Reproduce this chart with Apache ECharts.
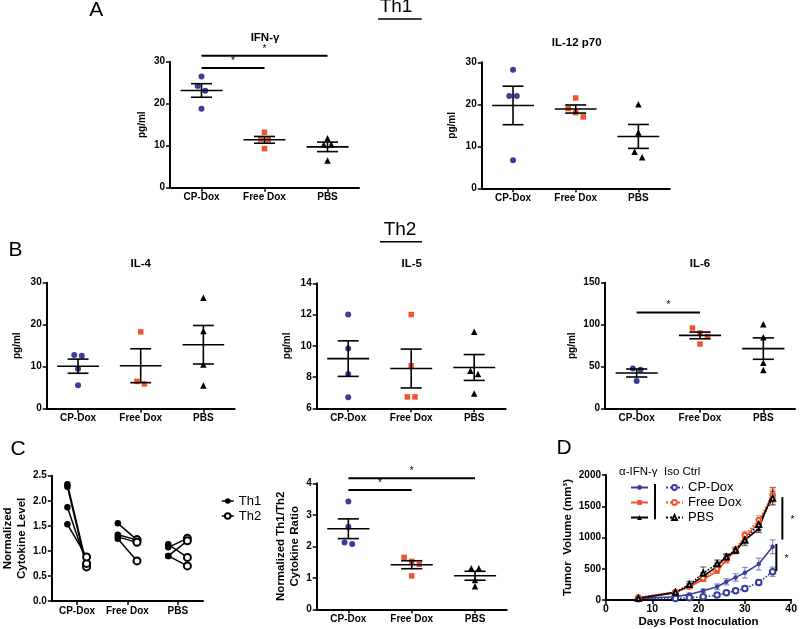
<!DOCTYPE html>
<html><head><meta charset="utf-8">
<script src="https://cdn.jsdelivr.net/npm/echarts@6/dist/echarts.min.js"></script>
<style>html,body{margin:0;padding:0;background:#fff}#c{width:800px;height:629px}</style>
</head><body><div id="c"></div>
<script>
// ---------- DATA ----------
const groups = ['CP-Dox', 'Free Dox', 'PBS'];
const ifngValues = [[26.5, 24.2, 23.1, 18.8], [13.2, 11.6, 11.5, 9.3], [11.8, 10.3, 10.3, 6.5]];
const ifngSig = [[0, 1, 28.5], [0, 2, 31.4]];
const il12Values = [[28.2, 22, 22, 6.7], [21.5, 19, 18, 17], [20, 13.3, 8.7, 7.4]];
const il4Values = [[12.8, 12.6, 9.5, 5.6], [18.3, 6.5, 5.9], [26.4, 18.5, 10.5, 5.5]];
const il5Values = [[12, 9.83, 8.19, 6.7], [12, 8.72, 6.73, 6.73], [10.9, 8.4, 8.2, 6.95]];
const il6Values = [[48, 46.5, 33], [96, 90, 86, 77], [100.5, 85, 54.8, 46]];
const il6Sig = [[0, 1, 114.5]];
const ratioValues = [[3.42, 2.62, 2.12, 2.07], [1.65, 1.52, 1.43, 1.06], [1.3, 1.3, 0.93, 0.73]];
const ratioSig = [[0, 1, 3.79], [0, 2, 4.16]];
const th1Values = [[2.33, 2.28, 1.87, 1.53], [1.55, 1.32, 1.28, 1.24], [1.13, 1.07, 0.9, 0.9]];
const th2Values = [[0.72, 0.68, 0.75, 0.88], [1.22, 1.22, 1.17, 0.80], [0.87, 1.25, 1.2, 0.7]];

const days = [7, 15, 18, 21, 24, 26, 28, 30, 33, 36];
const aCP = [27, 53, 91, 149, 213, 293, 363, 437, 576, 853];
const aCPErr = [10, 12, 18, 30, 45, 50, 60, 85, 95, 110];
const isoCP = [20, 27, 37, 53, 80, 117, 149, 187, 283, 453];
const isoCPErr = [8, 10, 12, 15, 20, 22, 30, 38, 45, 75];
const aFree = [40, 130, 210, 330, 460, 640, 790, 1000, 1240, 1650];
const aFreeErr = [10, 20, 30, 30, 25, 45, 40, 60, 60, 120];
const isoFree = [40, 125, 220, 350, 500, 660, 800, 1040, 1280, 1680];
const isoFreeErr = [10, 20, 30, 40, 35, 60, 50, 60, 70, 120];
const aPBS = [30, 120, 230, 380, 540, 700, 780, 960, 1140, 1720];
const aPBSErr = [8, 20, 40, 60, 50, 40, 40, 90, 60, 80];
const isoPBS = [30, 125, 250, 430, 580, 690, 800, 960, 1210, 1630];
const isoPBSErr = [8, 20, 50, 100, 60, 40, 40, 60, 80, 110];
const tumorSig = [[38.1, 968, 1646], [36.8, 465, 900]];

// ---------- STYLE ----------
const FONT = '"Liberation Sans", Arial, Helvetica, sans-serif';
const BLUE = '#3a3d9c', RED = '#f0532e', BLACK = '#000';
const GROUP_COLORS = [BLUE, RED, BLACK];
const GROUP_SYMBOLS = ['circle', 'rect', 'triangle'];
const GROUP_SIZES = [6, 5.5, 6.5];

const grids = [], xAxes = [], yAxes = [], series = [], graphics = [], legends = [];

function lbl(size) { return { color: '#000', fontFamily: FONT, fontWeight: 'bold', fontSize: size }; }
function tick() { return { show: true, inside: false, length: 4, lineStyle: { color: '#000', width: 1.5 } }; }
function line() { return { show: true, onZero: false, lineStyle: { color: '#000', width: 2 } }; }
function stats(v) {
  const n = v.length, m = v.reduce((a, b) => a + b, 0) / n;
  const sd = Math.sqrt(v.reduce((a, b) => a + (b - m) * (b - m), 0) / (n - 1));
  return { m, sem: sd / Math.sqrt(n) };
}
function jitter(vals, thr) {
  const idx = vals.map((v, i) => i).sort((a, b) => vals[b] - vals[a]);
  const off = new Array(vals.length).fill(0);
  let cl = [idx[0]];
  const flush = () => { const k = cl.length; cl.forEach((id, j) => off[id] = (j - (k - 1) / 2) * 0.12); };
  for (let i = 1; i < idx.length; i++) {
    if (vals[cl[cl.length - 1]] - vals[idx[i]] < thr) cl.push(idx[i]);
    else { flush(); cl = [idx[i]]; }
  }
  flush();
  return off;
}
function seg(a, b, st) { return { type: 'line', shape: { x1: a[0], y1: a[1], x2: b[0], y2: b[1] }, style: st }; }

function renderMeanSem(params, api) {
  const x = api.value(0), m = api.value(1), lo = api.value(2), hi = api.value(3);
  const pm = api.coord([x, m]), pl = api.coord([x, lo]), ph = api.coord([x, hi]);
  const u = api.size([1, 0])[0];
  const hw = u * 0.333, cw = u * 0.167;
  const st = { stroke: '#000', lineWidth: 1.6 };
  return { type: 'group', children: [
    seg([pm[0] - hw, pm[1]], [pm[0] + hw, pm[1]], st),
    seg(pl, ph, st),
    seg([pl[0] - cw, pl[1]], [pl[0] + cw, pl[1]], st),
    seg([ph[0] - cw, ph[1]], [ph[0] + cw, ph[1]], st)
  ] };
}
function renderSig(params, api) {
  const a = api.coord([api.value(0), api.value(2)]), b = api.coord([api.value(1), api.value(2)]);
  return { type: 'group', children: [
    seg(a, b, { stroke: '#000', lineWidth: 2 }),
    { type: 'text', style: { text: '*', x: (a[0] + b[0]) / 2, y: a[1] - 2, font: '10px ' + FONT, fill: '#000',
      align: 'center', verticalAlign: 'bottom', textAlign: 'center', textVerticalAlign: 'bottom' } }
  ] };
}

function dotPlot(p) {
  const gi = grids.length;
  grids.push({ left: p.box[0], top: p.box[1], width: p.box[2], height: p.box[3] });
  xAxes.push({ type: 'category', gridIndex: gi, data: groups, axisLine: line(),
    axisTick: Object.assign(tick(), { alignWithLabel: true }), splitLine: { show: false },
    axisLabel: Object.assign(lbl(10), { margin: 5, interval: 0 }) });
  const xv = xAxes.length;
  xAxes.push({ type: 'value', gridIndex: gi, min: 0, max: 3, show: false });
  const yi = yAxes.length;
  const yAx = { type: 'value', gridIndex: gi, min: p.y[0], max: p.y[1], interval: p.y[2],
    axisLine: line(), axisTick: tick(), splitLine: { show: false },
    axisLabel: Object.assign(lbl(10), { margin: 5 }),
    name: p.yName, nameLocation: 'middle', nameGap: p.nameGap,
    nameTextStyle: Object.assign(lbl(p.nameSize || 10), { lineHeight: p.nameLH || 12 }) };
  if (p.fmt) yAx.axisLabel.formatter = p.fmt;
  yAxes.push(yAx);
  p.values.forEach((vals, g) => {
    const off = jitter(vals, (p.y[1] - p.y[0]) * 0.045);
    series.push({ type: 'scatter', xAxisIndex: xv, yAxisIndex: yi, symbol: GROUP_SYMBOLS[g],
      symbolSize: GROUP_SIZES[g], itemStyle: { color: GROUP_COLORS[g], opacity: 1 }, silent: true, z: 3,
      data: vals.map((v, k) => [g + 0.5 + off[k], v]) });
  });
  series.push({ type: 'custom', xAxisIndex: xv, yAxisIndex: yi, clip: false, silent: true, z: 4,
    renderItem: renderMeanSem,
    data: p.values.map((v, g) => { const s = stats(v); return [g + 0.5, s.m, s.m - s.sem, s.m + s.sem]; }) });
  if (p.sig) series.push({ type: 'custom', xAxisIndex: xv, yAxisIndex: yi, clip: false, silent: true, z: 5,
    renderItem: renderSig, encode: { x: [0, 1], y: 2 },
    data: p.sig.map(s => [s[0] + 0.5, s[1] + 0.5, s[2]]) });
}

function txt(s, x, y, size, weight) {
  graphics.push({ type: 'text', x: x, y: y, silent: true,
    style: { text: s, font: `${weight} ${size}px ${FONT}`, fill: '#000',
      align: 'center', verticalAlign: 'middle', textAlign: 'center', textVerticalAlign: 'middle' } });
}
function gline(x1, y1, x2, y2, w) {
  graphics.push({ type: 'line', silent: true, shape: { x1, y1, x2, y2 }, style: { stroke: '#000', lineWidth: w } });
}

// ---------- PANELS A / B / C-right ----------
dotPlot({ box: [170, 61.7, 189, 126], values: ifngValues, y: [0, 30, 10], yName: 'pg/ml', nameGap: 21.5, sig: ifngSig });
dotPlot({ box: [481.7, 62.3, 188, 126], values: il12Values, y: [0, 30, 10], yName: 'pg/ml', nameGap: 23 });
dotPlot({ box: [46.7, 282.7, 188, 126], values: il4Values, y: [0, 30, 10], yName: 'pg/ml', nameGap: 23 });
dotPlot({ box: [316.7, 283.3, 189, 125], values: il5Values, y: [6, 14, 2], yName: 'pg/ml', nameGap: 23 });
dotPlot({ box: [605, 282.7, 190, 126], values: il6Values, y: [0, 150, 50], yName: 'pg/ml', nameGap: 26.5, sig: il6Sig });
dotPlot({ box: [316.7, 483.3, 190, 126], values: ratioValues, y: [0, 4, 1], yName: 'Normalized Th1/Th2\nCytokine Ratio',
  nameGap: 14, nameSize: 11.5, nameLH: 14, sig: ratioSig });

// ---------- PANEL C-left ----------
(function () {
  const gi = grids.length;
  grids.push({ left: 45, top: 475.7, width: 158, height: 125.3 });
  xAxes.push({ type: 'category', gridIndex: gi, data: groups, axisLine: line(),
    axisTick: Object.assign(tick(), { alignWithLabel: true }), splitLine: { show: false },
    axisLabel: Object.assign(lbl(10), { margin: 5, interval: 0 }) });
  const xv = xAxes.length;
  xAxes.push({ type: 'value', gridIndex: gi, min: 0, max: 3, show: false });
  const yi = yAxes.length;
  yAxes.push({ type: 'value', gridIndex: gi, min: 0, max: 2.5, interval: 0.5, axisLine: line(), axisTick: tick(),
    splitLine: { show: false }, axisLabel: Object.assign(lbl(10), { margin: 5, formatter: v => v.toFixed(1) }),
    name: 'Normalized\nCytokine Level', nameLocation: 'middle', nameGap: 21,
    nameTextStyle: Object.assign(lbl(11.5), { lineHeight: 14 }) });
  const d = 0.19;
  series.push({ type: 'custom', xAxisIndex: xv, yAxisIndex: yi, clip: false, silent: true, z: 2,
    encode: { x: [0, 2], y: [1, 3] },
    renderItem: (params, api) => seg(api.coord([api.value(0), api.value(1)]), api.coord([api.value(2), api.value(3)]),
      { stroke: '#000', lineWidth: 1.5 }),
    data: th1Values.flatMap((arr, g) => arr.map((v, k) => [g + 0.5 - d, v, g + 0.5 + d, th2Values[g][k]])) });
  series.push({ name: 'Th1', type: 'line', xAxisIndex: xv, yAxisIndex: yi, symbol: 'circle', symbolSize: 6.5,
    itemStyle: { color: '#000' }, lineStyle: { opacity: 0, color: '#000' }, silent: true, z: 3,
    data: th1Values.flatMap((arr, g) => arr.map(v => [g + 0.5 - d, v])) });
  series.push({ name: 'Th2', type: 'line', xAxisIndex: xv, yAxisIndex: yi, symbol: 'emptyCircle', symbolSize: 7,
    itemStyle: { color: '#000', borderWidth: 1.5 }, lineStyle: { opacity: 0, color: '#000' }, silent: true, z: 3,
    data: th2Values.flatMap((arr, g) => arr.map(v => [g + 0.5 + d, v])) });
  legends.push({ data: ['Th1', 'Th2'], left: 216, top: 489.5, orient: 'vertical', itemWidth: 12, itemHeight: 7, itemGap: 2,
    selectedMode: false, lineStyle: { opacity: 1, width: 1.5, color: '#000' },
    textStyle: { fontFamily: FONT, fontSize: 13, color: '#000', lineHeight: 13 } });
})();

// ---------- PANEL D ----------
(function () {
  const gi = grids.length;
  grids.push({ left: 606, top: 475, width: 189, height: 126 });
  const xi = xAxes.length;
  xAxes.push({ type: 'value', gridIndex: gi, min: 0, max: 40, interval: 10, axisLine: line(), axisTick: tick(),
    splitLine: { show: false }, axisLabel: Object.assign(lbl(10.5), { margin: 4 }),
    name: 'Days Post Inoculation', nameLocation: 'middle', nameGap: 14.5, nameTextStyle: lbl(11.5) });
  const yi = yAxes.length;
  yAxes.push({ type: 'value', gridIndex: gi, min: 0, max: 2000, interval: 500, axisLine: line(), axisTick: tick(),
    splitLine: { show: false }, axisLabel: Object.assign(lbl(10), { margin: 5, formatter: v => String(v) }),
    name: 'Tumor  Volume (mm³)', nameLocation: 'middle', nameGap: 32, nameTextStyle: lbl(11.5) });
  const defs = [
    ['α-IFN-γ CP-Dox', aCP, aCPErr, BLUE, 'solid', 'circle', 4.5],
    ['α-IFN-γ Free Dox', aFree, aFreeErr, RED, 'solid', 'rect', 5],
    ['α-IFN-γ PBS', aPBS, aPBSErr, BLACK, 'solid', 'triangle', 5],
    ['Iso Ctrl CP-Dox', isoCP, isoCPErr, BLUE, 'dotted', 'emptyCircle', 5.5],
    ['Iso Ctrl Free Dox', isoFree, isoFreeErr, RED, 'dotted', 'emptyCircle', 4.5],
    ['Iso Ctrl PBS', isoPBS, isoPBSErr, BLACK, 'dotted', 'emptyTriangle', 5]
  ];
  defs.forEach(([name, vals, errs, col, type, sym, size]) => {
    series.push({ type: 'custom', xAxisIndex: xi, yAxisIndex: yi, clip: false, silent: true, z: 2,
      itemStyle: { color: col },
      renderItem: (params, api) => {
        const x = api.value(0), y = api.value(1), e = api.value(2);
        const lo = api.coord([x, y - e]), hi = api.coord([x, y + e]);
        const st = { stroke: col, lineWidth: 1.2, opacity: 0.55 };
        return { type: 'group', children: [seg(lo, hi, st), seg([lo[0] - 3, lo[1]], [lo[0] + 3, lo[1]], st),
          seg([hi[0] - 3, hi[1]], [hi[0] + 3, hi[1]], st)] };
      },
      data: days.map((d, i) => [d, vals[i], errs[i]]) });
    series.push({ name, type: 'line', xAxisIndex: xi, yAxisIndex: yi, symbol: sym, symbolSize: size, silent: true, z: 3,
      itemStyle: { color: col, borderWidth: 1.3 }, lineStyle: { color: col, width: 1.6, type },
      data: days.map((d, i) => [d, vals[i]]) });
  });
  series.push({ type: 'custom', xAxisIndex: xi, yAxisIndex: yi, clip: false, silent: true, z: 5,
    encode: { x: 0, y: [1, 2] },
    renderItem: (params, api) => {
      const a = api.coord([api.value(0), api.value(1)]), b = api.coord([api.value(0), api.value(2)]);
      return { type: 'group', children: [seg(a, b, { stroke: '#000', lineWidth: 2 }),
        { type: 'text', style: { text: '*', x: a[0] + 10, y: (a[1] + b[1]) / 2 + 2, font: '10px ' + FONT, fill: '#000',
          align: 'center', verticalAlign: 'middle', textAlign: 'center', textVerticalAlign: 'middle' } }] };
    },
    data: tumorSig });
  legends.push({ data: defs.slice(0, 3).map(d => d[0]), left: 625, top: 476, orient: 'vertical', itemWidth: 17,
    itemHeight: 6, itemGap: 2, selectedMode: false, formatter: () => ' ',
    textStyle: { fontFamily: FONT, fontSize: 13, lineHeight: 13, color: '#000' } });
  legends.push({ data: defs.slice(3).map(d => d[0]), left: 660, top: 476, orient: 'vertical', itemWidth: 17,
    itemHeight: 6, itemGap: 2, selectedMode: false, formatter: n => n.replace('Iso Ctrl ', ''),
    textStyle: { fontFamily: FONT, fontSize: 13, lineHeight: 13, color: '#000' } });
})();

// ---------- TEXT / DECORATION ----------
txt('A', 96.3, 10, 21, 'normal');
txt('Th1', 396, 7, 19, 'normal'); gline(378, 19, 421.7, 19, 1.5);
txt('B', 15.5, 250, 21, 'normal');
txt('Th2', 400, 229.5, 19, 'normal'); gline(380, 241.7, 422, 241.7, 1.5);
txt('C', 18, 449, 21, 'normal');
txt('D', 564, 448.5, 21, 'normal');
txt('IFN-γ', 265, 38.3, 11.5, 'bold');
txt('IL-12 p70', 576.7, 43.3, 11.5, 'bold');
txt('IL-4', 140.7, 264, 11.5, 'bold');
txt('IL-5', 411.7, 264, 11.5, 'bold');
txt('IL-6', 700, 264, 11.5, 'bold');
graphics.push({ type: 'text', x: 619, y: 471.7, silent: true,
  style: { text: 'α-IFN-γ  Iso Ctrl', font: `normal 11.5px ${FONT}`, fill: '#000',
    align: 'left', verticalAlign: 'middle', textAlign: 'left', textVerticalAlign: 'middle' } });
gline(655, 484, 655, 519.3, 2);

const chart = echarts.init(document.getElementById('c'), null, { renderer: 'canvas' });
chart.setOption({
  animation: false,
  backgroundColor: '#fff',
  textStyle: { fontFamily: FONT },
  grid: grids, xAxis: xAxes, yAxis: yAxes, series: series, legend: legends, graphic: graphics
});
</script>
</body></html>
